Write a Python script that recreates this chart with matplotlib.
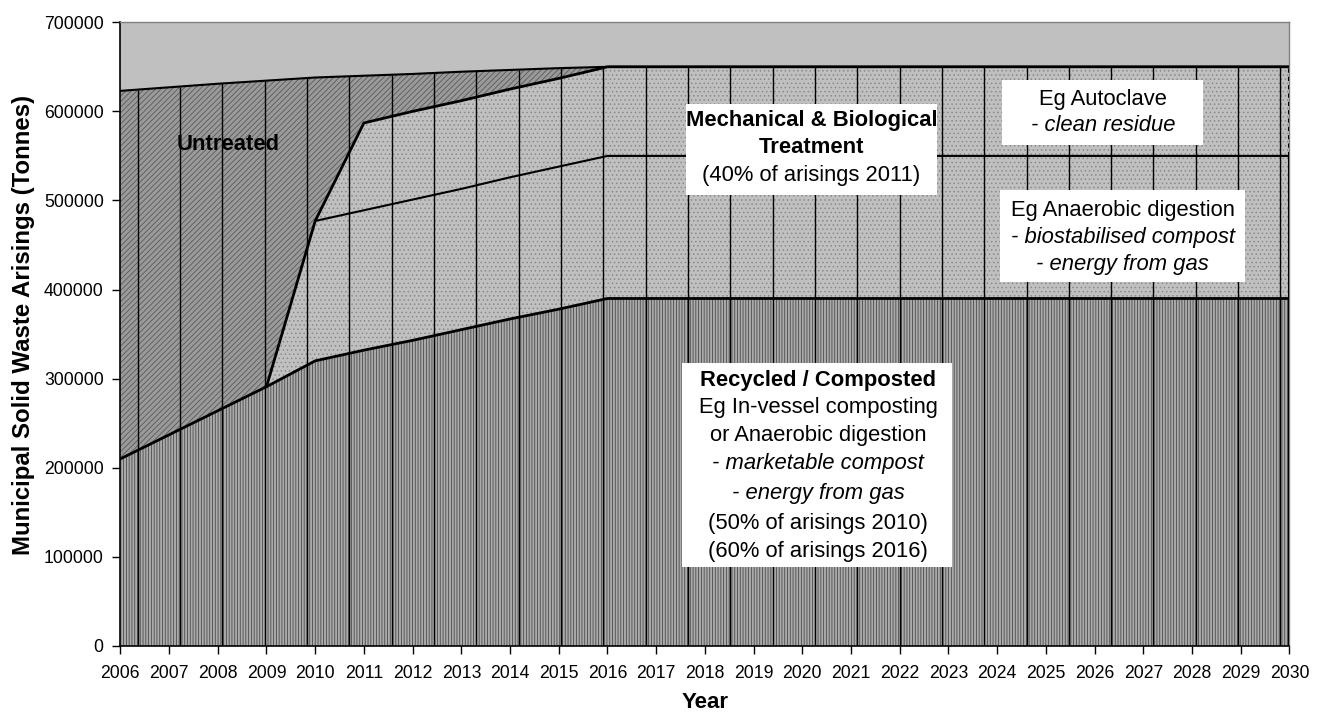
import numpy as np
import matplotlib
matplotlib.use("Agg")
import matplotlib.pyplot as plt
from matplotlib.patches import Rectangle

plt.rcParams['font.family'] = ['Liberation Sans', 'DejaVu Sans']
plt.rcParams['hatch.linewidth'] = 0.6

# Municipal solid waste arisings (tonnes), stacked layers
years = np.arange(2006, 2031)
recycled = [210000, 237000, 264000, 291000, 320000, 332000, 343000, 355000, 367000, 378000] + [390000] * 15
anaerobic = [0, 0, 0, 0, 157000, 157000, 158000, 158000, 159000, 160000] + [160000] * 15
autoclave = [0, 0, 0, 0, 0, 98000, 99000, 99000, 99000, 99000] + [100000] * 15
untreated = [413000, 390000, 367000, 343500, 161000, 53000, 42000, 32500, 21500, 11500] + [0] * 15

c1 = np.array(recycled, dtype=float)
c2 = c1 + np.array(anaerobic)
c3 = c2 + np.array(autoclave)
c4 = c3 + np.array(untreated)

fig = plt.figure(figsize=(13.24, 7.16), dpi=100)
ax = fig.add_axes([0.0909, 0.0978, 0.8830, 0.8711])
ax.set_facecolor('#c0c0c0')

# layers with Excel-like pattern fills
ax.fill_between(years, 0, c1, facecolor='#ababab', edgecolor='#4a4a4a', hatch='||||||', linewidth=0, zorder=1)
ax.fill_between(years, c1, c2, facecolor='#c0c0c0', edgecolor='#8a8a8a', hatch='....', linewidth=0, zorder=1)
ax.fill_between(years, c2, c3, facecolor='#c0c0c0', edgecolor='#8a8a8a', hatch='....', linewidth=0, zorder=1)
ax.fill_between(years, c3, c4, facecolor='#9a9a9a', edgecolor='#5a5a5a', hatch='//////', linewidth=0, zorder=1)

# vertical texture lines under the total curve
vx = np.linspace(2006.357, 2029.815, 28)
ax.vlines(vx, 0, np.interp(vx, years, c4), color='black', linewidth=1.0, zorder=2)

# boundary lines
ax.plot(years, c4, color='black', linewidth=1.5, zorder=3)
ax.plot(years, c1, color='black', linewidth=2.0, zorder=3)
ax.plot(years[3:], c3[3:], color='black', linewidth=2.0, zorder=3)
ax.plot(years[4:], c2[4:], color='black', linewidth=1.5, zorder=3)
ax.plot([years[-1], years[-1]], [0, c2[-1]], color='black', linewidth=1.5, zorder=3)
ax.plot([years[-1], years[-1]], [c2[-1], c3[-1]], color='black', linewidth=1.5, linestyle=(0, (2, 2)), zorder=3)

ax.set_xlim(2006, 2030)
ax.set_ylim(0, 700000)
ax.set_xticks(years)
ax.set_xticklabels([str(y) for y in years])
ax.set_yticks(np.arange(0, 700001, 100000))
ax.set_yticklabels([str(v) for v in range(0, 700001, 100000)])
ax.tick_params(axis='both', direction='out', length=6, width=1, labelsize=12.7, colors='black')
ax.tick_params(axis='x', pad=8)
ax.tick_params(axis='y', pad=6)

for s in ['top', 'right']:
    ax.spines[s].set_color('#808080')
    ax.spines[s].set_linewidth(1)
for s in ['left', 'bottom']:
    ax.spines[s].set_color('black')
    ax.spines[s].set_linewidth(1.2)

ax.set_xlabel('Year', fontsize=16, fontweight='bold', va='center')
ax.set_ylabel('Municipal Solid Waste Arisings (Tonnes)', fontsize=17.3, fontweight='bold', va='center')
ax.xaxis.set_label_coords(0.5, -0.0914)
ax.yaxis.set_label_coords(-0.0830, 0.515)

fs = 15.8

ax.text(2008.21, 562300, 'Untreated', fontsize=fs, fontweight='bold', ha='center', va='center', zorder=6)


def box(x0, x1, y0, y1):
    ax.add_patch(Rectangle((x0, y0), x1 - x0, y1 - y0, facecolor='white', edgecolor='none', zorder=5))


def lines(xc, ys, items):
    for y, (t, w, st) in zip(ys, items):
        ax.text(xc, y, t, fontsize=fs, fontweight=w, fontstyle=st, ha='center', va='center', zorder=6)


box(2017.62, 2022.76, 506200, 608300)
lines(2020.19, [590300, 558900, 527500],
      [('Mechanical & Biological', 'bold', 'normal'),
       ('Treatment', 'bold', 'normal'),
       ('(40% of arisings 2011)', 'normal', 'normal')])

box(2024.10, 2028.23, 562300, 635200)
lines(2026.17, [612800, 584700],
      [('Eg Autoclave', 'normal', 'normal'),
       ('- clean residue', 'normal', 'italic')])

box(2024.06, 2029.09, 408500, 511800)
lines(2026.58, [489300, 457900, 427600],
      [('Eg Anaerobic digestion', 'normal', 'normal'),
       ('- biostabilised compost', 'normal', 'italic'),
       ('- energy from gas', 'normal', 'italic')])

box(2017.53, 2023.08, 88700, 317600)
lines(2020.33, [298500, 267100, 235700, 204300, 170600, 136900, 105500],
      [('Recycled / Composted', 'bold', 'normal'),
       ('Eg In-vessel composting', 'normal', 'normal'),
       ('or Anaerobic digestion', 'normal', 'normal'),
       ('- marketable compost', 'normal', 'italic'),
       ('- energy from gas', 'normal', 'italic'),
       ('(50% of arisings 2010)', 'normal', 'normal'),
       ('(60% of arisings 2016)', 'normal', 'normal')])

fig.savefig('out.png', dpi=100)
